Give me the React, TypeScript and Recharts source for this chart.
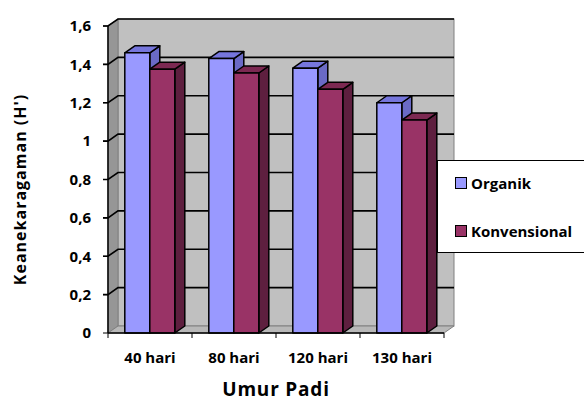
import { Bar, BarChart, Label, Legend, ReferenceArea, XAxis, YAxis } from "recharts";

const categories = ["40 hari", "80 hari", "120 hari", "130 hari"];
const organik = [1.46, 1.43, 1.38, 1.2];
const konvensional = [1.375, 1.355, 1.27, 1.11];
const yTicks = [0, 0.2, 0.4, 0.6, 0.8, 1, 1.2, 1.4, 1.6];
const seriesNames = ["Organik", "Konvensional"];

const palette: Record<string, { front: string; top: string; side: string }> = {
  Organik: { front: "#9999FF", top: "#7676DC", side: "#6A6AC6" },
  Konvensional: { front: "#993366", top: "#7C2952", side: "#5E1F3F" },
};

const data = categories.map((name, i) => ({
  name,
  Organik: organik[i],
  Konvensional: konvensional[i],
}));

// depth of the Excel-style 3D box
const DX = 10;
const DY = 7;
const FONT = "'Open Sans', 'Noto Sans', sans-serif";

function make3DBar(top: string, side: string) {
  return (props: any) => {
    const { x, y, width: w, height: h, fill } = props;
    if (w == null || h == null) return null;
    return (
      <g stroke="#000" strokeWidth={1.5} strokeLinejoin="round">
        <polygon points={`${x + w},${y} ${x + w + DX},${y - DY} ${x + w + DX},${y + h - DY} ${x + w},${y + h}`} fill={side} />
        <polygon points={`${x},${y} ${x + DX},${y - DY} ${x + w + DX},${y - DY} ${x + w},${y}`} fill={top} />
        <rect x={x} y={y} width={w} height={h} fill={fill} />
      </g>
    );
  };
}

function Walls(props: any) {
  const { x, y, width: w, height: h } = props;
  return (
    <g>
      <rect x={x + DX} y={y - DY} width={w} height={h} fill="#C0C0C0" stroke="#808080" />
      <polygon points={`${x},${y} ${x + DX},${y - DY} ${x + DX},${y + h - DY} ${x},${y + h}`} fill="#969696" stroke="#808080" />
      <polygon points={`${x},${y + h} ${x + DX},${y + h - DY} ${x + w + DX},${y + h - DY} ${x + w},${y + h}`} fill="#B8B8B8" stroke="#808080" />
    </g>
  );
}

// grid line at the top edge of its band, bent over the side wall
function GridBand(props: any) {
  const { x, y, width: w } = props;
  return (
    <polyline
      points={`${x - 5},${y} ${x},${y} ${x + DX},${y - DY} ${x + w + DX},${y - DY}`}
      fill="none"
      stroke="#000"
      strokeWidth={1.6}
    />
  );
}

function XTick(props: any) {
  const { x, y, payload, index, visibleTicksCount } = props;
  const off = payload.offset || 42;
  return (
    <g>
      <line x1={x - off} y1={y} x2={x - off} y2={y + 5} stroke="#000" />
      {index === visibleTicksCount - 1 && <line x1={x + off} y1={y} x2={x + off} y2={y + 5} stroke="#000" />}
      <text x={x} y={y + 30} textAnchor="middle" fontFamily={FONT} fontWeight={700} fontSize={15} fill="#000">
        {payload.value}
      </text>
    </g>
  );
}

function LegendBox() {
  return (
    <div
      style={{
        width: 147,
        height: 93,
        border: "1px solid #000",
        borderRight: "none",
        background: "#fff",
        boxSizing: "border-box",
        position: "relative",
        fontFamily: FONT,
        fontWeight: 700,
        fontSize: 15,
        color: "#000",
      }}
    >
      {seriesNames.map((n, i) => (
        <div
          key={n}
          style={{ position: "absolute", left: 17, top: i === 0 ? 12 : 60, height: 20, display: "flex", alignItems: "center" }}
        >
          <span
            style={{ width: 10, height: 10, border: "1px solid #000", background: palette[n].front, marginRight: 4, display: "inline-block" }}
          />
          <span>{n}</span>
        </div>
      ))}
    </div>
  );
}

export default function App() {
  return (
    <div style={{ position: "absolute", left: 0, top: 0, width: 584, height: 401, overflow: "hidden", background: "#fff" }}>
      <BarChart
        width={584}
        height={401}
        data={data}
        margin={{ top: 26, right: 140, bottom: 0, left: 10 }}
        barCategoryGap="20%"
        barGap={0}
      >
        <ReferenceArea y1={0} y2={1.6} shape={Walls} ifOverflow="visible" />
        {yTicks.slice(1).map((t, i) => (
          <ReferenceArea key={t} y1={yTicks[i]} y2={t} shape={GridBand} ifOverflow="visible" />
        ))}
        <XAxis
          dataKey="name"
          height={68}
          tickSize={0}
          tickMargin={0}
          tickLine={false}
          axisLine={{ stroke: "#000", strokeWidth: 1.5 }}
          tick={<XTick />}
          interval={0}
        >
          <Label
            value="Umur Padi"
            position="insideBottom"
            offset={5}
            style={{ fontFamily: FONT, fontWeight: 700, fontSize: 19, letterSpacing: 0.8, fill: "#000" }}
          />
        </XAxis>
        <YAxis
          width={98}
          domain={[0, 1.6]}
          ticks={yTicks}
          interval={0}
          tickSize={5}
          tickMargin={12}
          tickLine={{ stroke: "#000" }}
          axisLine={{ stroke: "#000", strokeWidth: 1.5 }}
          tickFormatter={(v: number) => String(v).replace(".", ",")}
          tick={{ fontFamily: FONT, fontWeight: 700, fontSize: 15, fill: "#000" }}
        >
          <Label
            value="Keanekaragaman (H')"
            angle={-90}
            position="center"
            dx={-39}
            dy={10}
            style={{ fontFamily: FONT, fontWeight: 700, fontSize: 16, letterSpacing: 1, fill: "#000", textAnchor: "middle" }}
          />
        </YAxis>
        <Legend
          layout="horizontal"
          verticalAlign="middle"
          align="center"
          content={<LegendBox />}
          wrapperStyle={{ position: "absolute", left: 437, top: 160, width: 147 }}
        />
        <Bar
          dataKey="Organik"
          fill={palette.Organik.front}
          shape={make3DBar(palette.Organik.top, palette.Organik.side)}
          isAnimationActive={false}
        />
        <Bar
          dataKey="Konvensional"
          fill={palette.Konvensional.front}
          shape={make3DBar(palette.Konvensional.top, palette.Konvensional.side)}
          isAnimationActive={false}
        />
      </BarChart>
    </div>
  );
}
